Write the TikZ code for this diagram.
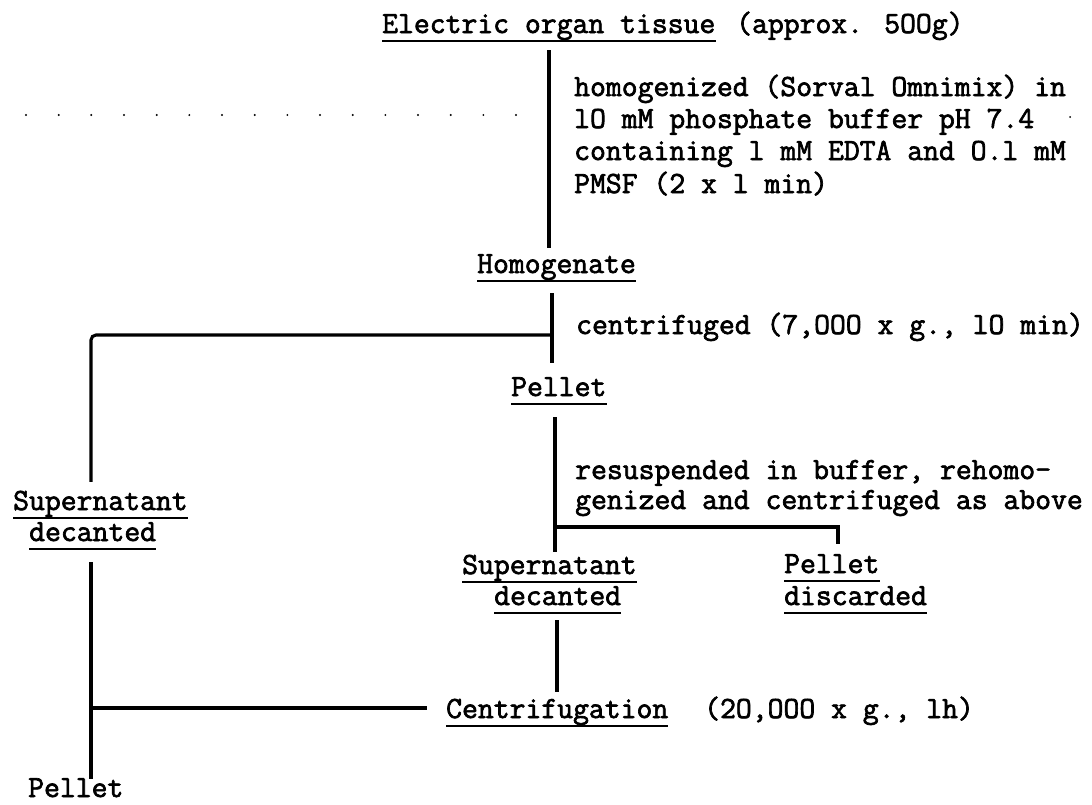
\documentclass[tikz,border=0pt]{standalone}
\usepackage{fontspec}
\newfontfamily\tw{Latin Modern Mono}[FakeBold=2.2]
\tikzset{
  txt/.style={inner sep=0pt, anchor=base west, text height=17pt, text depth=0pt,
              font=\tw\fontsize{30.8}{32}\selectfont},
  conn/.style={line width=3.1pt},
  uline/.style={line width=1.8pt},
  speck/.style={fill=black},
}
\newcommand\ulnode[1]{\draw[uline] ([yshift=-8pt]#1.south west) -- ([yshift=-8pt]#1.south east);}
\begin{document}
\begin{tikzpicture}[x=1pt,y=-1pt]
\fill[white] (0,0) rectangle (1092,804);
\useasboundingbox (0,0) rectangle (1092,804);

% text
\node[txt] (title) at (382,33) {Electric organ tissue};
\node[txt] (approx) at (736,33) {(approx. 5OOg)};
\node[txt] (h1) at (574,96) {homogenized (Sorval Omnimix) in};
\node[txt] (h2) at (574,128) {lO mM phosphate buffer pH 7.4};
\node[txt] (h3) at (574,160) {containing l mM EDTA and O.l mM};
\node[txt] (h4) at (574,193) {PMSF (2 x l min)};
\node[txt] (homog) at (477,273) {Homogenate};
\node[txt] (cf) at (576,334) {centrifuged (7,OOO x g., lO min)};
\node[txt] (pel1) at (511,396) {Pellet};
\node[txt] (r1) at (575,479) {resuspended in buffer, rehomo-};
\node[txt] (r2) at (575,509) {genized and centrifuged as above};
\node[txt] (sup1) at (13,510) {Supernatant};
\node[txt] (dec1) at (29,541) {decanted};
\node[txt] (sup2) at (462,574) {Supernatant};
\node[txt] (dec2) at (494,605) {decanted};
\node[txt] (pel2) at (784,573) {Pellet};
\node[txt] (disc) at (784,605) {discarded};
\node[txt] (cent) at (446,718) {Centrifugation};
\node[txt] (cond) at (704,718) {(2O,OOO x g., lh)};
\node[txt] (pel3) at (28,797) {Pellet};

% underlines
\ulnode{title}
\ulnode{homog}
\ulnode{pel1}
\ulnode{sup1}
\ulnode{dec1}
\ulnode{sup2}
\ulnode{dec2}
\ulnode{pel2}
\ulnode{disc}
\ulnode{cent}

% junctions
\coordinate (j0) at (91,335);
\coordinate (j1) at (552,335);
\coordinate (j2) at (555,527);
\coordinate (j3) at (838,527);
\coordinate (j4) at (91,708);

% connectors
\draw[conn] ([yshift=-17pt]title.south -| 549,0) -- ([yshift=8pt]homog.north -| 549,0);
\draw[conn] ([yshift=-20pt]homog.south -| j1) -- ([yshift=16pt]pel1.north -| j1);
\draw[conn, rounded corners=5pt] (j1) -- (j0) -- ([yshift=11pt]sup1.north -| j0);
\draw[conn] ([yshift=-21pt]pel1.south -| j2) -- ([yshift=5pt]sup2.north -| j2);
\draw[conn] (j2) -- (j3) -- ([yshift=12pt]pel2.north -| j3);
\draw[conn] ([yshift=-15pt]dec2.south -| 557,0) -- ([yshift=9pt]cent.north -| 557,0);
\draw[conn] ([yshift=-21pt]dec1.south -| j0) -- ([yshift=1pt]pel3.north -| j0);
\draw[conn] (j4) -- ([xshift=-19pt]cent.west |- j4);

% dotted row
\foreach \i in {0,...,15} \fill[speck] (26+32.67*\i,115) circle (1.1pt);
\fill[speck] (1070,117) circle (1pt);
\end{tikzpicture}
\end{document}
